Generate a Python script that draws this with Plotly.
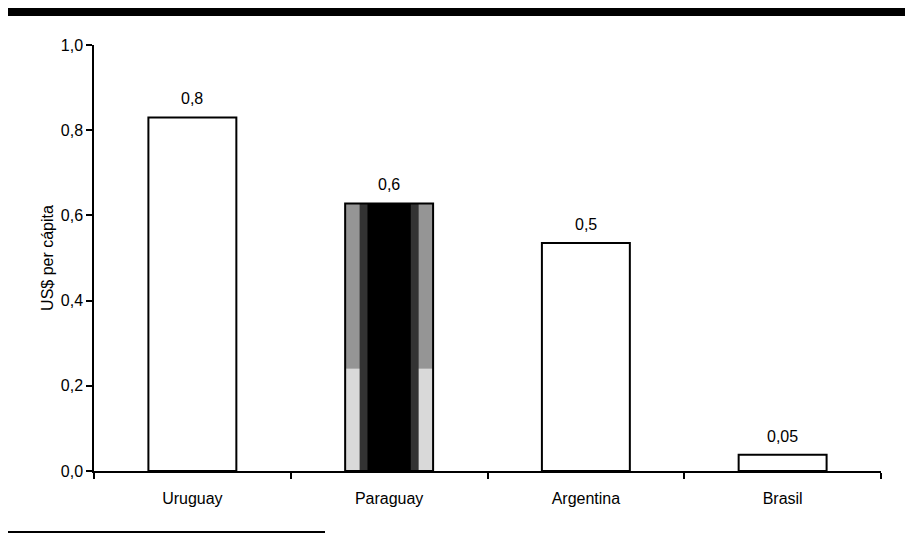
import plotly.graph_objects as go

categories = ["Uruguay", "Paraguay", "Argentina", "Brasil"]
values = [0.83, 0.628, 0.535, 0.038]
value_labels = ["0,8", "0,6", "0,5", "0,05"]
y_tickvals = [0.0, 0.2, 0.4, 0.6, 0.8, 1.0]
y_ticktext = ["0,0", "0,2", "0,4", "0,6", "0,8", "1,0"]
y_title = "US$ per cápita"

FONT = "Liberation Sans Narrow, Arial Narrow, Liberation Sans, Arial, sans-serif"
FS = 16
BAR_W = 0.447
pi = categories.index("Paraguay")
pv = values[pi]
split = 0.24

fig = go.Figure()
# Paraguay shaded bar (layers)
fig.add_trace(go.Bar(x=[categories[pi]], y=[split], base=[0], width=BAR_W,
                     marker=dict(color="#d9d9d9", line=dict(width=0)), hoverinfo="skip"))
fig.add_trace(go.Bar(x=[categories[pi]], y=[pv - split], base=[split], width=BAR_W,
                     marker=dict(color="#959595", line=dict(width=0)), hoverinfo="skip"))
fig.add_trace(go.Bar(x=[categories[pi]], y=[pv], base=[0], width=0.30,
                     marker=dict(color="#333333", line=dict(width=0)), hoverinfo="skip"))
fig.add_trace(go.Bar(x=[categories[pi]], y=[pv], base=[0], width=0.22,
                     marker=dict(color="#000000", line=dict(width=0)), hoverinfo="skip"))
# Outline / main bars
fills = ["rgba(0,0,0,0)" if c == "Paraguay" else "white" for c in categories]
fig.add_trace(go.Bar(x=categories, y=values, width=BAR_W,
                     marker=dict(color=fills, line=dict(color="black", width=2))))

for c, v, t in zip(categories, values, value_labels):
    fig.add_annotation(x=c, y=v, text=t, showarrow=False, yanchor="bottom", yshift=8,
                       font=dict(family=FONT, size=FS, color="black"))

fig.update_layout(
    barmode="overlay",
    showlegend=False,
    width=905, height=527,
    margin=dict(l=86, r=32, t=37, b=64),
    paper_bgcolor="white", plot_bgcolor="white",
    font=dict(family=FONT, size=FS, color="black"),
    xaxis=dict(type="category", categoryorder="array", categoryarray=categories,
               showline=True, linecolor="black", linewidth=1.5,
               ticks="outside", tickson="boundaries", ticklen=6, tickcolor="black",
               tickwidth=1.5, showgrid=False, ticklabelstandoff=12,
               tickfont=dict(family=FONT, size=FS, color="black")),
    yaxis=dict(range=[0, 1.0], tickvals=y_tickvals, ticktext=y_ticktext,
               showline=True, linecolor="black", linewidth=1.5, ticks="outside",
               ticklen=6, tickcolor="black", tickwidth=1.5, showgrid=False, zeroline=False,
               title=dict(text=y_title, font=dict(family=FONT, size=FS, color="black"), standoff=3),
               tickfont=dict(family=FONT, size=FS, color="black")),
    shapes=[
        dict(type="rect", xref="x domain", yref="y domain", x0=-86 / 787, x1=814 / 787,
             y0=1 + 29 / 426, y1=1 + 37 / 426, fillcolor="black", line=dict(width=0)),
        dict(type="line", xref="x domain", yref="y domain", x0=-86 / 787, x1=231 / 787,
             y0=-61 / 426, y1=-61 / 426, line=dict(color="black", width=2)),
    ],
)

fig.write_html("out.html")
